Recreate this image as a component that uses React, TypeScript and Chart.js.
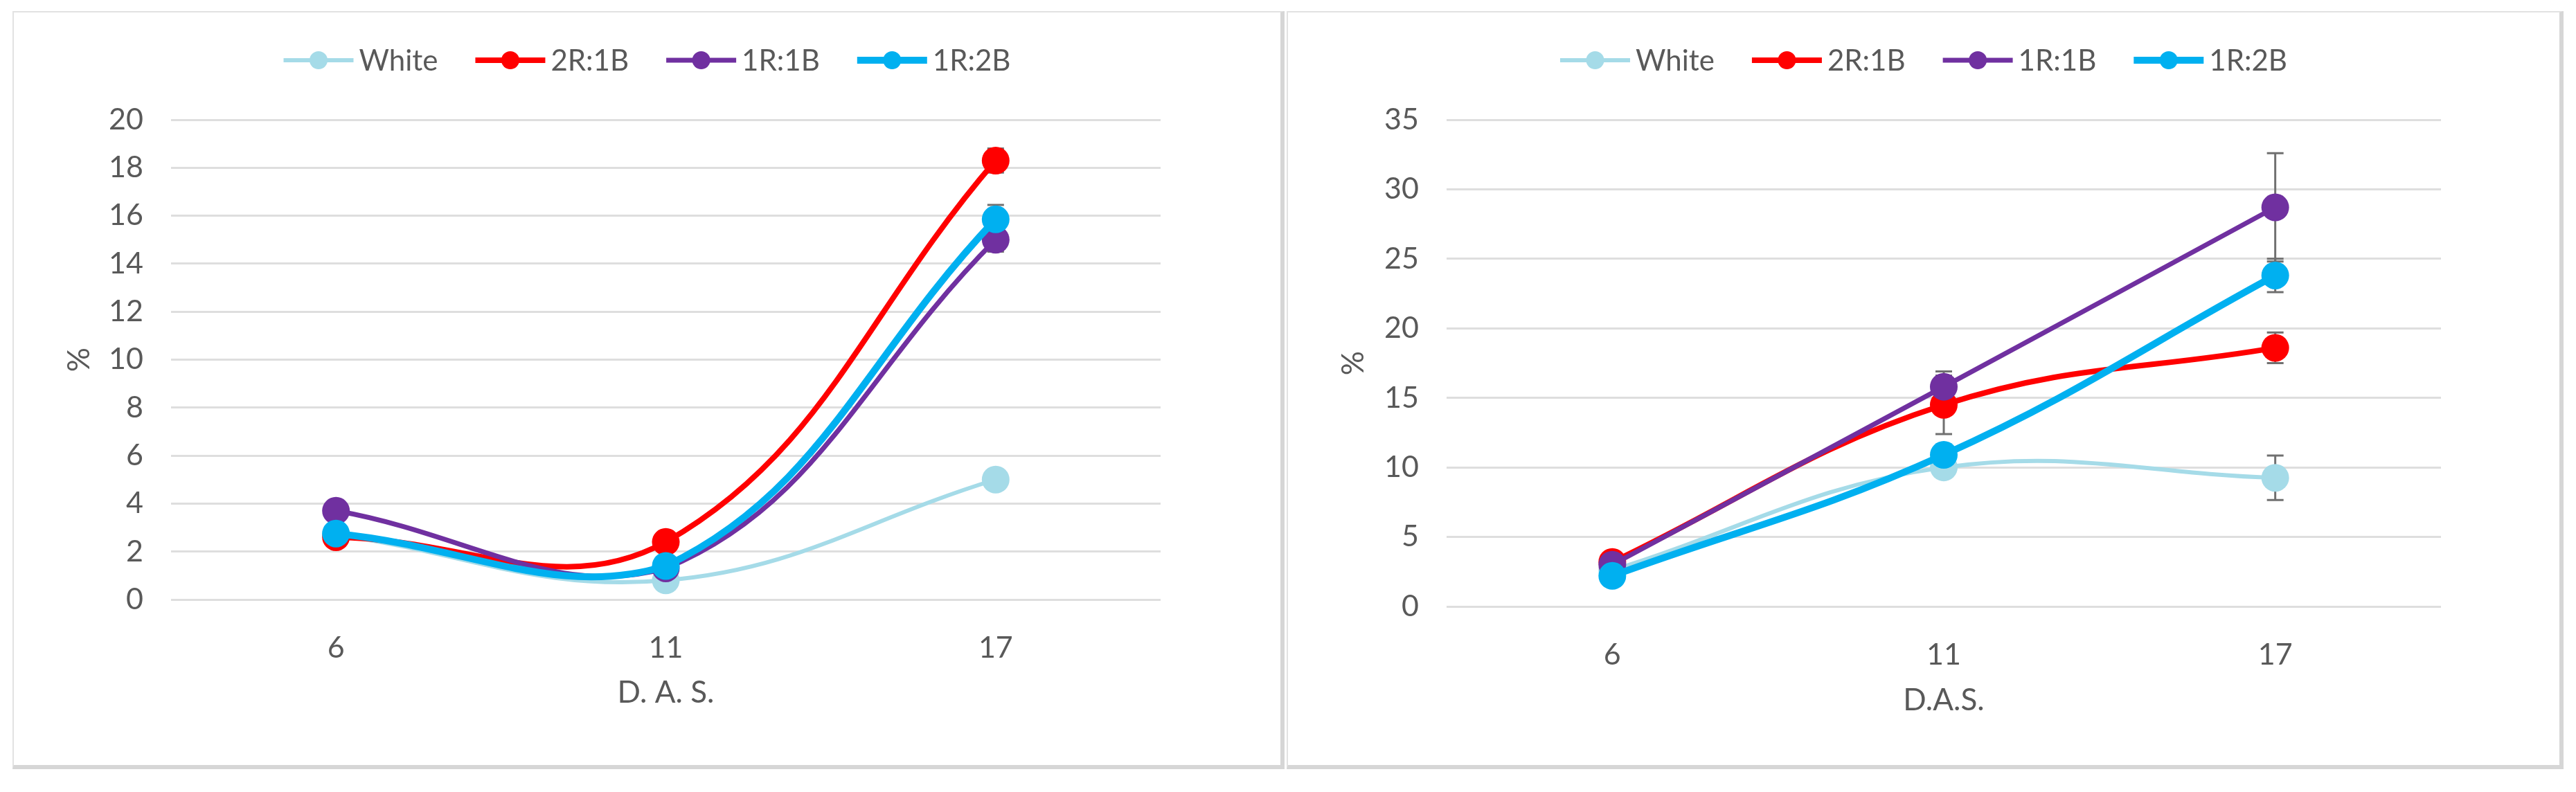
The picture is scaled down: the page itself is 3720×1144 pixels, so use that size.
import { useEffect, useRef } from 'react';
import { Chart, registerables } from 'chart.js';

Chart.register(...registerables);

const days = ['6', '11', '17'];
const seriesNames = ['White', '2R:1B', '1R:1B', '1R:2B'];
const seriesColors = ['#a5dbe8', '#ff0000', '#7030a0', '#00b0f0'];
const lineWidths = [6, 8, 7, 10];

// left chart values (%)
const leftWhite = [2.7, 0.8, 5.0];
const left2R1B = [2.6, 2.4, 18.3];
const left1R1B = [3.7, 1.3, 15.0];
const left1R2B = [2.75, 1.4, 15.85];
const leftErrors = [
  [0.3, 0.2, 0.4],
  [0.3, 0.3, 0.5],
  [0.3, 0.2, 0.5],
  [0.2, 0.2, 0.6],
];

// right chart values (%)
const rightWhite = [2.6, 10.0, 9.25];
const right2R1B = [3.2, 14.5, 18.6];
const right1R1B = [3.0, 15.8, 28.7];
const right1R2B = [2.2, 10.9, 23.8];
const rightErrors = [
  [0.5, 0.6, 1.6],
  [0.7, 2.1, 1.1],
  [0.6, 1.1, 3.9],
  [0.4, 0.5, 1.2],
];

const textColor = '#595959';
const fontFamily = 'Lato';

function errorBars(errors: number[][]) {
  return {
    id: 'errorBars',
    beforeDatasetsDraw(chart: any) {
      const { ctx } = chart;
      const y = chart.scales.y;
      ctx.save();
      ctx.strokeStyle = '#707070';
      ctx.lineWidth = 3;
      errors.forEach((errs, di) => {
        const meta = chart.getDatasetMeta(di);
        const values = chart.data.datasets[di].data as number[];
        meta.data.forEach((pt: any, i: number) => {
          const top = y.getPixelForValue(values[i] + errs[i]);
          const bottom = y.getPixelForValue(values[i] - errs[i]);
          ctx.beginPath();
          ctx.moveTo(pt.x, top);
          ctx.lineTo(pt.x, bottom);
          ctx.moveTo(pt.x - 12, top);
          ctx.lineTo(pt.x + 12, top);
          ctx.moveTo(pt.x - 12, bottom);
          ctx.lineTo(pt.x + 12, bottom);
          ctx.stroke();
        });
      });
      ctx.restore();
    },
  };
}

// excel style legend: line with a dot, then the name
const lineLegend = {
  id: 'lineLegend',
  afterDraw(chart: any) {
    const { ctx } = chart;
    const lineLen = 101;
    const gap = 8;
    const itemGap = 54;
    const y = 69;
    ctx.save();
    ctx.font = `42px ${fontFamily}`;
    const items = chart.data.datasets.map((ds: any) => ({
      label: ds.label,
      color: ds.borderColor,
      width: ds.borderWidth,
      w: lineLen + gap + ctx.measureText(ds.label).width,
    }));
    const total = items.reduce((s: number, it: any) => s + it.w, 0) + itemGap * (items.length - 1);
    let x = chart.width / 2 - total / 2;
    items.forEach((it: any) => {
      ctx.strokeStyle = it.color;
      ctx.lineWidth = it.width;
      ctx.beginPath();
      ctx.moveTo(x, y);
      ctx.lineTo(x + lineLen, y);
      ctx.stroke();
      ctx.fillStyle = it.color;
      ctx.beginPath();
      ctx.arc(x + lineLen / 2, y, 13, 0, Math.PI * 2);
      ctx.fill();
      ctx.fillStyle = textColor;
      ctx.textAlign = 'left';
      ctx.textBaseline = 'middle';
      ctx.fillText(it.label, x + lineLen + gap, y + 1);
      x += it.w + itemGap;
    });
    ctx.restore();
  },
};

type PanelProps = {
  left: number;
  width: number;
  values: number[][];
  errors: number[][];
  yMax: number;
  yStep: number;
  xTitle: string;
  padRight: number;
  padBottom: number;
  yWidth: number;
  xHeight: number;
};

function Panel(p: PanelProps) {
  const ref = useRef<HTMLCanvasElement>(null);
  const canvasW = p.width - 2 - 6;
  const canvasH = 1087;

  useEffect(() => {
    if (!ref.current) return;
    const chart = new Chart(ref.current, {
      type: 'line',
      data: {
        labels: days,
        datasets: p.values.map((vals, i) => ({
          label: seriesNames[i],
          data: vals,
          borderColor: seriesColors[i],
          backgroundColor: seriesColors[i],
          borderWidth: lineWidths[i],
          tension: 0.4,
          pointRadius: 20,
          pointBorderWidth: 0,
          pointBackgroundColor: seriesColors[i],
          order: 4 - i,
        })),
      },
      options: {
        responsive: false,
        animation: false,
        events: [],
        layout: { padding: { left: 73, right: p.padRight, top: 155, bottom: p.padBottom } },
        plugins: {
          legend: { display: false },
          tooltip: { enabled: false },
        },
        scales: {
          x: {
            offset: true,
            grid: { display: false },
            border: { display: false },
            ticks: { color: textColor, font: { family: fontFamily, size: 43 }, padding: 36 },
            title: {
              display: true,
              text: p.xTitle,
              color: textColor,
              font: { family: fontFamily, size: 44, lineHeight: 1 },
              padding: 0,
            },
            afterFit(scale: any) {
              scale.height = p.xHeight;
            },
          },
          y: {
            min: 0,
            max: p.yMax,
            ticks: { stepSize: p.yStep, color: textColor, font: { family: fontFamily, size: 43 }, padding: 40 },
            grid: { color: '#dedede', lineWidth: 3, drawTicks: false },
            border: { display: false },
            title: {
              display: true,
              text: '%',
              color: textColor,
              font: { family: fontFamily, size: 44, lineHeight: 1 },
              padding: 0,
            },
            afterFit(scale: any) {
              scale.width = p.yWidth;
            },
          },
        },
      },
      plugins: [errorBars(p.errors), lineLegend],
    });
    return () => {
      chart.destroy();
    };
  }, []);

  return (
    <div
      style={{
        position: 'absolute',
        left: p.left,
        top: 16,
        width: p.width,
        height: 1095,
        boxSizing: 'border-box',
        background: '#fff',
        borderTop: '2px solid #e2e2e2',
        borderLeft: '2px solid #e2e2e2',
        borderRight: '6px solid #d6d6d6',
        borderBottom: '6px solid #d6d6d6',
      }}
    >
      <canvas ref={ref} width={canvasW} height={canvasH} style={{ display: 'block' }} />
    </div>
  );
}

export default function App() {
  return (
    <div style={{ position: 'absolute', left: 0, top: 0, width: 3720, height: 1144, background: '#fff' }}>
      <Panel
        left={18}
        width={1837}
        values={[leftWhite, left2R1B, left1R1B, left1R2B]}
        errors={leftErrors}
        yMax={20}
        yStep={2}
        xTitle="D. A. S."
        padRight={173}
        padBottom={82}
        yWidth={154}
        xHeight={157}
      />
      <Panel
        left={1858}
        width={1844}
        values={[rightWhite, right2R1B, right1R1B, right1R2B]}
        errors={rightErrors}
        yMax={35}
        yStep={5}
        xTitle="D.A.S."
        padRight={171}
        padBottom={71}
        yWidth={156}
        xHeight={158}
      />
    </div>
  );
}
